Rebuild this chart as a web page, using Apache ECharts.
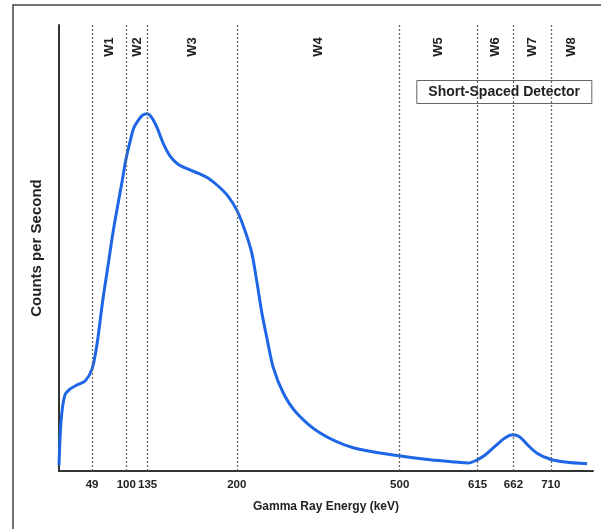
<!DOCTYPE html>
<html>
<head>
<meta charset="utf-8">
<script src="https://cdn.jsdelivr.net/npm/echarts@6/dist/echarts.min.js"></script>
<style>
  html, body { margin: 0; padding: 0; background: #fff; }
  #chart { width: 601px; height: 529px; }
</style>
</head>
<body>
<div id="chart"></div>
<script>
// x axis is in detector channel units (0-100), energy windows marked at their edges
var edgeLabels = ['49', '100', '135', '200', '500', '615', '662', '710']
var edgeChannels = [6.2, 12.6, 16.6, 33.3, 63.8, 78.4, 85.1, 92.1]
var windowNames = ['W1', 'W2', 'W3', 'W4', 'W5', 'W6', 'W7', 'W8']
var axisEnd = 100

// spectrum
var channel = [0, 0.4, 1.1, 2.1, 3.4, 4.9, 6.2, 7.1, 8.2, 9.2, 10.1, 11.0, 11.8, 12.5, 13.3, 14.0,
  15.0, 15.7, 16.5, 17.4, 18.4, 19.5, 20.8, 22.3, 24.5, 26.4, 27.9, 29.8, 31.6, 33.3, 34.8, 36.1,
  37.0, 38.0, 38.9, 40.1, 42.0, 44.5, 48.9, 55.1, 63.7, 69.5, 74.2, 76.6, 78.3, 79.8,
  81.7, 83.5, 85.0, 86.3, 87.8, 89.5, 91.9, 94.8, 98.9]
var counts = [1.3, 11.4, 17.0, 18.4, 19.3, 20.2, 22.9, 28.3, 38.3, 46.2, 53.4, 59.6, 64.8, 69.7, 73.8, 76.9,
  78.9, 79.8, 80.1, 79.2, 76.9, 73.5, 70.6, 68.8, 67.5, 66.6, 65.7, 63.9, 61.7, 58.5, 54.0, 48.9,
  42.8, 35.4, 30.0, 23.3, 17.5, 13.0, 8.5, 5.2, 3.4, 2.5, 2.0, 1.8, 2.5, 3.6,
  5.6, 7.4, 8.1, 7.6, 5.8, 4.0, 2.7, 2.0, 1.6]

var myChart = echarts.init(document.getElementById('chart'))

var seriesData = []
for (var i = 0; i < channel.length; i++) {
  seriesData.push([channel[i], counts[i]])
}

var font = 'Liberation Sans, Arial, sans-serif'

var option = {
  backgroundColor: '#fff',
  animation: false,
  title: {
    text: 'Short-Spaced Detector',
    right: 9,
    top: 80,
    borderWidth: 1,
    borderColor: '#666',
    padding: [5, 12],
    textStyle: { fontFamily: font, fontSize: 14, fontWeight: 'bold', color: '#222' }
  },
  grid: { left: 59, right: 8, top: 25, bottom: 58, outerBoundsMode: 'none' },
  xAxis: {
    type: 'value',
    min: 0,
    max: axisEnd,
    name: 'Gamma Ray Energy (keV)',
    nameLocation: 'middle',
    nameGap: 30,
    nameTextStyle: { fontFamily: font, fontSize: 12, fontWeight: 'bold', color: '#222' },
    axisLine: { show: true, lineStyle: { color: '#333', width: 2 } },
    axisTick: { show: false },
    splitLine: { show: false },
    axisLabel: {
      customValues: edgeChannels,
      margin: 8,
      fontFamily: font,
      fontSize: 11.5,
      fontWeight: 'bold',
      color: '#222',
      formatter: function (v) {
        var k = edgeChannels.indexOf(v)
        return k >= 0 ? edgeLabels[k] : ''
      }
    }
  },
  yAxis: {
    type: 'value',
    min: 0,
    max: 100,
    name: 'Counts per Second',
    nameLocation: 'middle',
    nameGap: 15,
    nameTextStyle: { fontFamily: font, fontSize: 15, fontWeight: 'bold', color: '#222' },
    axisLine: { show: true, lineStyle: { color: '#333', width: 2 } },
    axisTick: { show: false },
    axisLabel: { show: false },
    splitLine: { show: false }
  },
  series: [
    {
      type: 'line',
      data: seriesData,
      smooth: 0.3,
      symbol: 'none',
      lineStyle: { color: '#1e66e6', width: 3 },
      z: 3,
      markLine: {
        silent: true,
        symbol: 'none',
        label: { show: false },
        lineStyle: { color: '#666', type: [2, 2], width: 1.3 },
        data: edgeChannels.map(function (v) { return { xAxis: v } })
      }
    }
  ]
}
myChart.setOption(option)

// window names sit rotated at the top, midway between the edges
var edges = edgeChannels.concat([axisEnd])
var texts = []
for (var j = 0; j < windowNames.length; j++) {
  var mid = (edges[j] + edges[j + 1]) / 2
  var px = myChart.convertToPixel({ xAxisIndex: 0 }, mid)
  texts.push({
    type: 'text',
    x: px,
    y: 47,
    rotation: Math.PI / 2,
    style: {
      text: windowNames[j],
      fontFamily: font,
      fontSize: 13,
      fontWeight: 'bold',
      fill: '#222',
      align: 'center',
      verticalAlign: 'middle'
    }
  })
}
texts.push({
  type: 'rect',
  shape: { x: 13, y: 5, width: 620, height: 560 },
  style: { fill: 'none', stroke: '#444', lineWidth: 1.5 },
  silent: true
})
myChart.setOption({ graphic: texts })
</script>
</body>
</html>
